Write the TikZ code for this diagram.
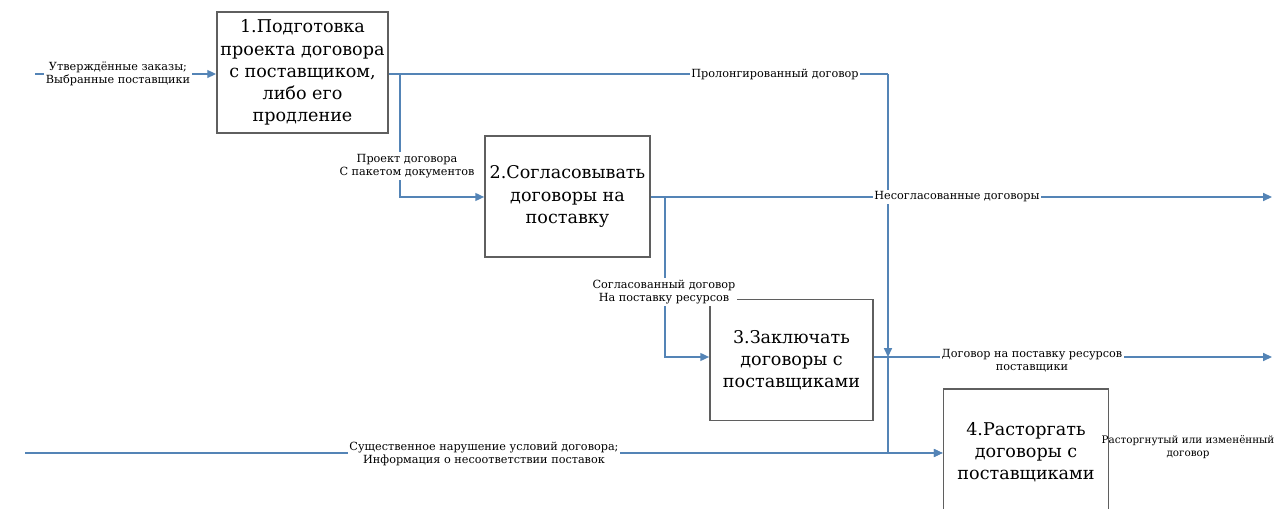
\documentclass[tikz,border=0pt]{standalone}
\usepackage{fontspec}
\setmainfont{DejaVu Serif}
\usetikzlibrary{arrows.meta}
\definecolor{flow}{RGB}{84,132,182}
\definecolor{boxline}{RGB}{95,95,95}
\tikzset{
  x=0.02cm, y=-0.02cm,
  func/.style={draw=boxline, line width=1pt, fill=white, align=center,
    minimum width=3.3cm, minimum height=2.42cm, inner sep=2pt,
    font=\fontsize{10}{12.6}\selectfont},
  flowline/.style={draw=flow, line width=0.8pt},
  arr/.style={flowline, -{Triangle[length=5pt,width=4.5pt]}},
  lbl/.style={fill=white, align=center, inner sep=1pt,
    font=\fontsize{6.4}{7.4}\selectfont}
}
\begin{document}
\begin{tikzpicture}
\clip (0,0) rectangle (1275,509);
\fill[white] (0,0) rectangle (1275,509);

% function boxes
\node[func] (b1) at (302.5,72.5) {1.Подготовка\\проекта договора\\с поставщиком,\\либо его\\продление};
\node[func] (b2) at (567.5,196.5) {2.Согласовывать\\договоры на\\поставку};
\node[func, minimum width=3.26cm] (b3) at (791.5,360) {3.Заключать\\договоры с\\поставщиками};
\node[func, minimum height=2.52cm] (b4) at (1026,452) {4.Расторгать\\договоры с\\поставщиками};

% coordinates
\coordinate (inA) at (35,74);
\coordinate (inB) at (25,453);
\coordinate (j1) at (400,74);
\coordinate (j1b) at (400,197);
\coordinate (t1) at (888,74);
\coordinate (t2) at (888,357);
\coordinate (t3) at (888,453);
\coordinate (j2) at (665,197);
\coordinate (j2b) at (665,357);
\coordinate (o2) at (1272,197);
\coordinate (o3) at (1272,357);

% flows
\draw[arr] (inA) -- (inA -| b1.west);
\draw[flowline] (b1.east |- j1) -- (t1);
\draw[arr] (t1) -- (t2);
\draw[arr] (t2) -- (t3) -- (t3 -| b4.west);
\draw[arr] (j1) -- (j1b) -- (j1b -| b2.west);
\draw[arr] (b2.east |- j2) -- (o2);
\draw[arr] (j2) -- (j2b) -- (j2b -| b3.west);
\draw[arr] (b3.east |- o3) -- (o3);
\draw[arr] (inB) -- (inB -| b4.west);

% labels
\node[lbl] (l1) at (118,74) {Утверждённые заказы;\\Выбранные поставщики};
\node[lbl] (l2) at (407,166) {Проект договора\\С пакетом документов};
\node[lbl] (l3) at (775,74) {Пролонгированный договор};
\node[lbl] (l4) at (957,197) {Несогласованные договоры};
\node[lbl] (l5) at (664,292) {Согласованный договор\\На поставку ресурсов};
\node[lbl] (l6) at (1032,361) {Договор на поставку ресурсов\\поставщики};
\node[lbl] (l7) at (484,454) {Существенное нарушение условий договора;\\Информация о несоответствии поставок};
\node[lbl, fill=none, font=\fontsize{5.9}{7.2}\selectfont] (l8) at (1188,447) {Расторгнутый или изменённый\\договор};
\end{tikzpicture}
\end{document}
